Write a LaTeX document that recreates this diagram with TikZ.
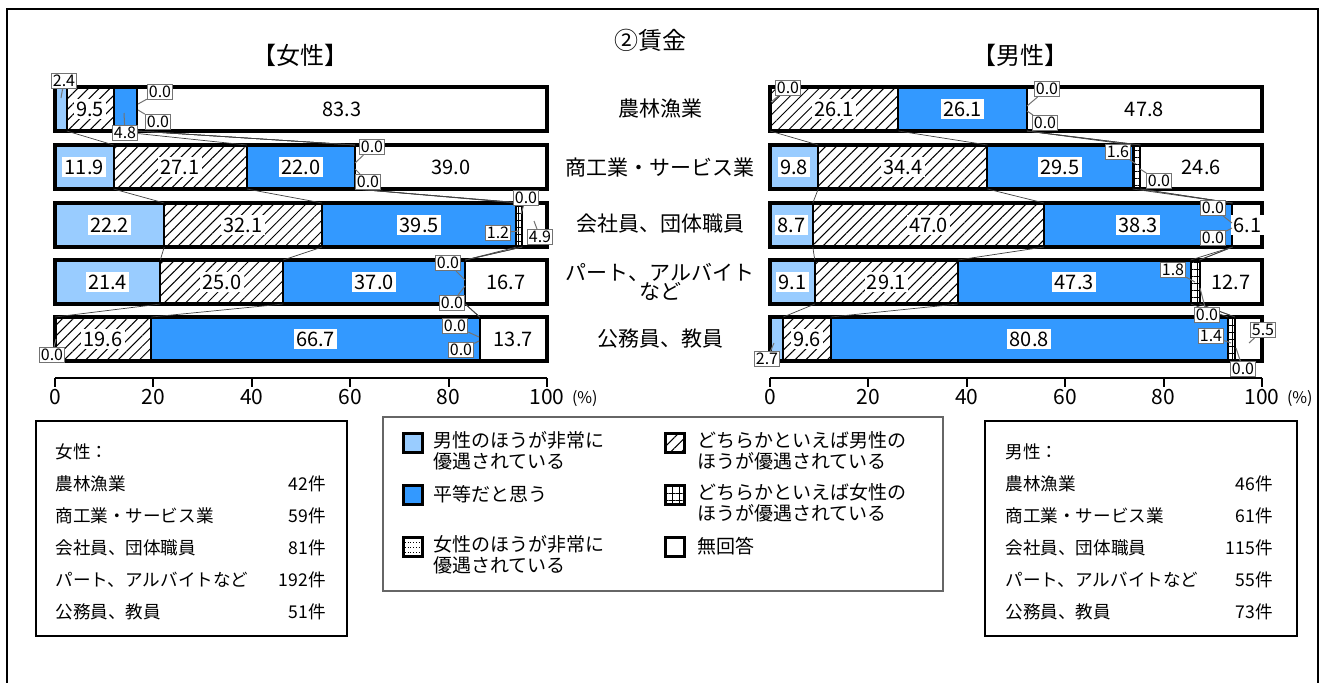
\documentclass[tikz,border=0pt]{standalone}
\usepackage{fontspec}
\setmainfont{Noto Sans CJK JP}
\usetikzlibrary{patterns.meta}
\definecolor{paleblue}{RGB}{153,204,255}
\definecolor{eqblue}{RGB}{51,153,255}
\tikzset{
  barval/.style={fill=white,inner sep=1.2pt,font=\fontsize{10}{12}\selectfont},
  callout/.style={draw=black!55,fill=white,inner sep=0.8pt,line width=0.5pt,font=\fontsize{8}{9}\selectfont},
  pointer/.style={draw=black!55,line width=0.5pt},
  manhatch/.style={pattern={Lines[angle=45,distance=3.8pt,line width=0.5pt]}},
  womangrid/.style={pattern={Hatch[angle=0,distance=3.5pt,line width=0.5pt]}},
  serline/.style={draw=black!75,line width=0.35pt},
  catlab/.style={font=\fontsize{10.5}{12.5}\selectfont,align=center},
  ticklab/.style={font=\fontsize{10.5}{12}\selectfont},
  legtext/.style={font=\fontsize{9.5}{10.5}\selectfont,align=left,anchor=west,inner sep=0pt},
  swatch/.style={draw=black,line width=1.5pt,minimum size=9.5pt,inner sep=0pt},
  cnttext/.style={font=\fontsize{8.8}{10}\selectfont,inner sep=0pt},
  frame/.style={draw=black,line width=0.8pt},
}
\begin{document}
\begin{tikzpicture}[x=0.5pt,y=-0.5pt]
\useasboundingbox (0,0) rectangle (1324,682);
\fill[white] (0,0) rectangle (1324,682);
\draw[frame] (7,690) -- (7,9) -- (1318,9) -- (1318,690);
%% titles
\node[font=\fontsize{12}{14}\selectfont] (title) at (650,40) {②賃金};
\node[font=\fontsize{12}{14}\selectfont] (ftitle) at (300,55) {【女性】};
\node[font=\fontsize{12}{14}\selectfont] (mtitle) at (1020,55) {【男性】};
%% category labels
\node[catlab] (cat_1) at (660,109) {農林漁業};
\node[catlab] (cat_2) at (660,167) {商工業・サービス業};
\node[catlab] (cat_3) at (660,224) {会社員、団体職員};
\node[catlab] (cat_4) at (660,282) {パート、アルバイト\\[-3pt]など};
\node[catlab] (cat_5) at (660,339) {公務員、教員};
%% bars
\foreach \id/\xo/\yc/\va/\vb/\vc/\vd/\ve/\vf in {
  f1/55/109/2.4/9.5/4.8/0.0/0.0/83.3,
  f2/55/167/11.9/27.1/22.0/0.0/0.0/39.0,
  f3/55/225/22.2/32.1/39.5/1.2/0.0/4.9,
  f4/55/282/21.4/25.0/37.0/0.0/0.0/16.7,
  f5/55/339/0.0/19.6/66.7/0.0/0.0/13.7,
  m1/770/109/0.0/26.1/26.1/0.0/0.0/47.8,
  m2/770/167/9.8/34.4/29.5/1.6/0.0/24.6,
  m3/770/225/8.7/47.0/38.3/0.0/0.0/6.1,
  m4/770/282/9.1/29.1/47.3/1.8/0.0/12.7,
  m5/770/339/2.7/9.6/80.8/1.4/0.0/5.5}{
  \pgfmathsetmacro\xa{\xo+4.92*\va}
  \pgfmathsetmacro\xb{\xa+4.92*\vb}
  \pgfmathsetmacro\xc{\xb+4.92*\vc}
  \pgfmathsetmacro\xd{\xc+4.92*\vd}
  \pgfmathsetmacro\xe{\xd+4.92*\ve}
  \pgfmathsetmacro\xf{\xo+492}
  \pgfmathsetmacro\yt{\yc-22}
  \pgfmathsetmacro\yb{\yc+22}
  \fill[paleblue] (\xo,\yt) rectangle (\xa,\yb);
  \fill[manhatch] (\xa,\yt) rectangle (\xb,\yb);
  \fill[eqblue] (\xb,\yt) rectangle (\xc,\yb);
  \fill[womangrid] (\xc,\yt) rectangle (\xd,\yb);
  \foreach \k/\xx in {1/\xa,2/\xb,3/\xc,4/\xd,5/\xe}{
    \draw[line width=1pt] (\xx,\yt) -- (\xx,\yb);
    \coordinate (\id-\k-t) at (\xx,\yt);
    \coordinate (\id-\k-b) at (\xx,\yb);
  }
  \draw[line width=1.6pt] (\xo,\yt) rectangle (\xf,\yb);
  \foreach \k/\v/\xl/\xr in {1/\va/\xo/\xa,2/\vb/\xa/\xb,3/\vc/\xb/\xc,6/\vf/\xe/\xf}{
    \ifdim\v pt>5.6pt
      \node[barval] (\id-v\k) at ({(\xl+\xr)/2},\yc) {\v};
    \fi
  }
}
%% lines between the bars
\foreach \s in {f,m}{
  \foreach \r in {1,...,4}{
    \pgfmathtruncatemacro\rn{\r+1}
    \foreach \k in {1,...,5}{
      \draw[serline] (\s\r-\k-b) -- (\s\rn-\k-t);
    }
  }
}
%% small values
\foreach \n/\cx/\cy/\tx/\ty/\t in {
  c1/64/81/61/98/2.4, c2/125/133/124/113/4.8,
  c3/160/92/138/104/0.0, c4/158/122/138/110/0.0,
  c5/372/147/355/163/0.0, c6/368/182/355/169/0.0,
  c7/526/198/521/214/0.0, c8/498/233/519/231/1.2,
  c9/540/237/534/221/4.9, c10/448/263/465/280/0.0,
  c11/452/303/465/286/0.0, c12/455/326/479/337/0.0,
  c13/461/350/479/341/0.0, c14/52/355/56/339/0.0,
  d1/788/88/771/102/0.0, d2/1047/89/1027/106/0.0,
  d3/1045/123/1027/111/0.0, d4/1118/152/1136/164/1.6,
  d5/1159/181/1140/169/0.0, d6/1213/208/1232/223/0.0,
  d7/1213/238/1232/228/0.0, d8/1173/270/1195/282/1.8,
  d9/1207/315/1200/288/0.0, d10/1211/336/1231/343/1.4,
  d11/1243/369/1236/348/0.0, d12/1263/330/1249/343/5.5,
  d13/767/359/774/343/2.7}{
  \node[callout] (call-\n) at (\cx,\cy) {\t};
  \coordinate (tip-\n) at (\tx,\ty);
  \draw[pointer] (call-\n) -- (tip-\n);
}
%% axes
\foreach \ax/\xo in {fax/55,max/770}{
  \draw[line width=1pt] (\xo,378) -- ++(492,0);
  \foreach \p in {0,20,...,100}{
    \draw[line width=1pt] ({\xo+4.92*\p},378) -- ++(0,9);
    \node[ticklab] (\ax-\p) at ({\xo+4.92*\p},397) {\p};
  }
  \node[font=\fontsize{8}{10}\selectfont,anchor=west] (\ax-pct) at ({\xo+510},399) {(\%)};
}
%% legend
\draw[draw=black!60,line width=0.6pt] (383,417) rectangle (943,591);
\node[swatch,fill=paleblue] (leg_1) at (413,443) {};
\node[legtext] (legt_1) at (433,451) {男性のほうが非常に\\優遇されている};
\node[swatch,fill=eqblue] (leg_2) at (413,495) {};
\node[legtext] (legt_2) at (433,494) {平等だと思う};
\node[swatch,fill=white] (leg_3) at (413,547) {};
\foreach \dy in {-2.5,0,2.5}
  \draw[densely dotted,line width=0.4pt] ([yshift=\dy pt]leg_3.west) -- ([yshift=\dy pt]leg_3.east);
\node[legtext] (legt_3) at (433,555) {女性のほうが非常に\\優遇されている};
\node[swatch,manhatch] (leg_4) at (675,443) {};
\node[legtext] (legt_4) at (697,451) {どちらかといえば男性の\\ほうが優遇されている};
\node[swatch,womangrid] (leg_5) at (675,495) {};
\node[legtext] (legt_5) at (697,503) {どちらかといえば女性の\\ほうが優遇されている};
\node[swatch,fill=white] (leg_6) at (675,547) {};
\node[legtext] (legt_6) at (697,546) {無回答};
%% counts
\draw[frame] (36,421) rectangle (347,636);
\draw[frame] (985,421) rectangle (1297,636);
\node[cnttext,anchor=west] (fcnt_0) at (55,452) {女性：};
\node[cnttext,anchor=west] (mcnt_0) at (1005,452) {男性：};
\foreach \i/\yy/\cat/\fn/\mn in {1/484/農林漁業/42/46, 2/516/商工業・サービス業/59/61,
  3/548/会社員、団体職員/81/115, 4/580/パート、アルバイトなど/192/55, 5/612/公務員、教員/51/73}{
  \node[cnttext,anchor=west] (fcnt_\i) at (55,\yy) {\cat};
  \node[cnttext,anchor=east] (fnum_\i) at (326,\yy) {\fn 件};
  \node[cnttext,anchor=west] (mcnt_\i) at (1005,\yy) {\cat};
  \node[cnttext,anchor=east] (mnum_\i) at (1273,\yy) {\mn 件};
}
\end{tikzpicture}
\end{document}
